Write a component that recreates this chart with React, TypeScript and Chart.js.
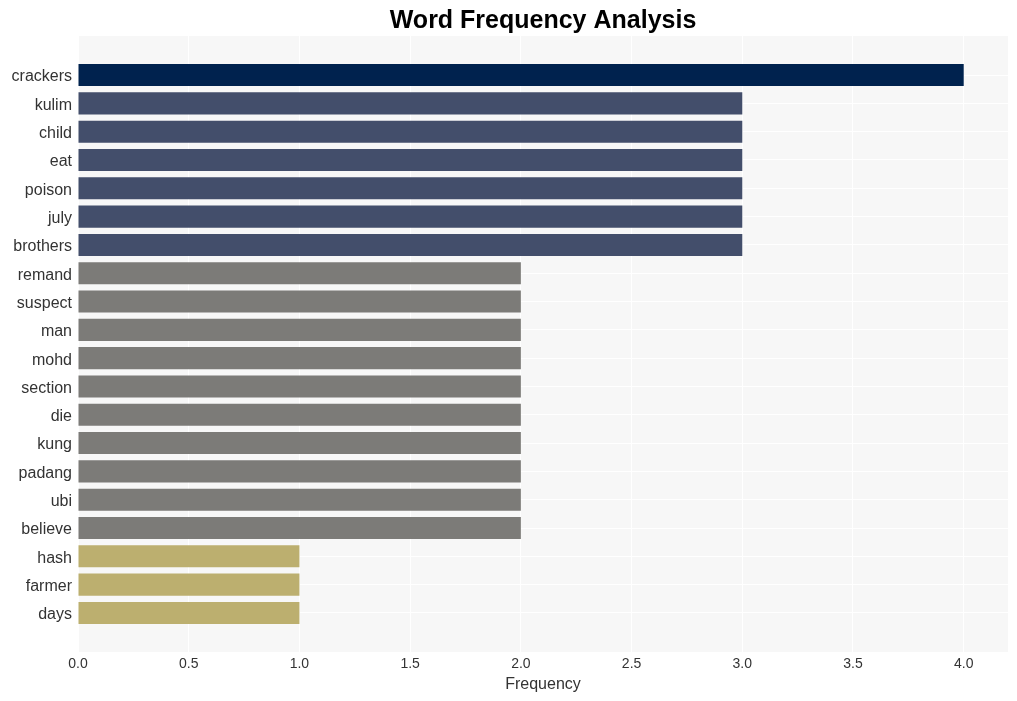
import React, { useEffect, useRef } from "react";
import { Chart, registerables } from "chart.js";

Chart.register(...registerables);

const words = [
  "crackers", "kulim", "child", "eat", "poison", "july", "brothers",
  "remand", "suspect", "man", "mohd", "section", "die", "kung", "padang", "ubi", "believe",
  "hash", "farmer", "days",
];
const frequencies = [4, 3, 3, 3, 3, 3, 3, 2, 2, 2, 2, 2, 2, 2, 2, 2, 2, 1, 1, 1];
const colorByValue: Record<number, string> = {
  4: "#00224e",
  3: "#434e6b",
  2: "#7c7b78",
  1: "#bcaf6f",
};
const xTicks = [0, 0.5, 1, 1.5, 2, 2.5, 3, 3.5, 4];

const bgPlugin = {
  id: "plotBg",
  beforeDraw(chart: any) {
    const { ctx, chartArea } = chart;
    ctx.save();
    ctx.fillStyle = "#f7f7f7";
    ctx.fillRect(chartArea.left, chartArea.top, chartArea.right - chartArea.left, chartArea.bottom - chartArea.top);
    ctx.restore();
  },
};

export default function App() {
  const ref = useRef<HTMLCanvasElement | null>(null);
  useEffect(() => {
    document.body.style.margin = "0";
    const n = words.length;
    const chart = new Chart(ref.current as HTMLCanvasElement, {
      type: "bar",
      plugins: [bgPlugin],
      data: {
        datasets: [
          {
            data: words.map((w, i) => ({ x: frequencies[i], y: i })) as any,
            backgroundColor: frequencies.map((v) => colorByValue[v]),
            barPercentage: 0.78,
            categoryPercentage: 1,
          },
        ],
      },
      options: {
        indexAxis: "y",
        animation: false,
        responsive: false,
        layout: { padding: { left: 0, right: 9, top: 0, bottom: 0 } },
        plugins: {
          legend: { display: false },
          tooltip: { enabled: false },
          title: {
            display: true,
            text: "Word Frequency Analysis",
            fullSize: false,
            color: "#000",
            font: { family: "Liberation Sans, Arial, sans-serif", size: 25, weight: "bold" },
            padding: { top: 6, bottom: 0 },
          },
        },
        scales: {
          x: {
            type: "linear",
            min: 0,
            max: 4.2,
            offset: false,
            afterBuildTicks: (s: any) => {
              s.ticks = xTicks.map((v) => ({ value: v }));
            },
            afterFit: (s: any) => {
              s.height = 49;
            },
            grid: { color: "#ffffff", lineWidth: 1, drawTicks: false, offset: false },
            border: { display: false },
            ticks: {
              color: "#333",
              padding: 4,
              font: { family: "Liberation Sans, Arial, sans-serif", size: 14 },
              callback: (v: any) => Number(v).toFixed(1),
            },
            title: {
              display: true,
              text: "Frequency",
              color: "#333",
              font: { family: "Liberation Sans, Arial, sans-serif", size: 16 },
              padding: { top: 0, bottom: 7 },
            },
          },
          y: {
            type: "linear",
            reverse: true,
            offset: false,
            min: -1.38,
            max: n - 1 + 1.38,
            afterBuildTicks: (s: any) => {
              s.ticks = words.map((_, i) => ({ value: i }));
            },
            afterFit: (s: any) => {
              s.width = 78;
            },
            grid: { color: "#ffffff", lineWidth: 1, drawTicks: false, offset: false },
            border: { display: false },
            ticks: {
              autoSkip: false,
              color: "#333",
              padding: 6,
              labelOffset: 2,
              font: { family: "Liberation Sans, Arial, sans-serif", size: 16 },
              callback: (v: any) => words[Number(v)] ?? "",
            },
          },
        },
      } as any,
    });
    return () => chart.destroy();
  }, []);
  return (
    <div style={{ width: 1017, height: 701 }}>
      <canvas ref={ref} width={1017} height={701} style={{ display: "block" }} />
    </div>
  );
}
